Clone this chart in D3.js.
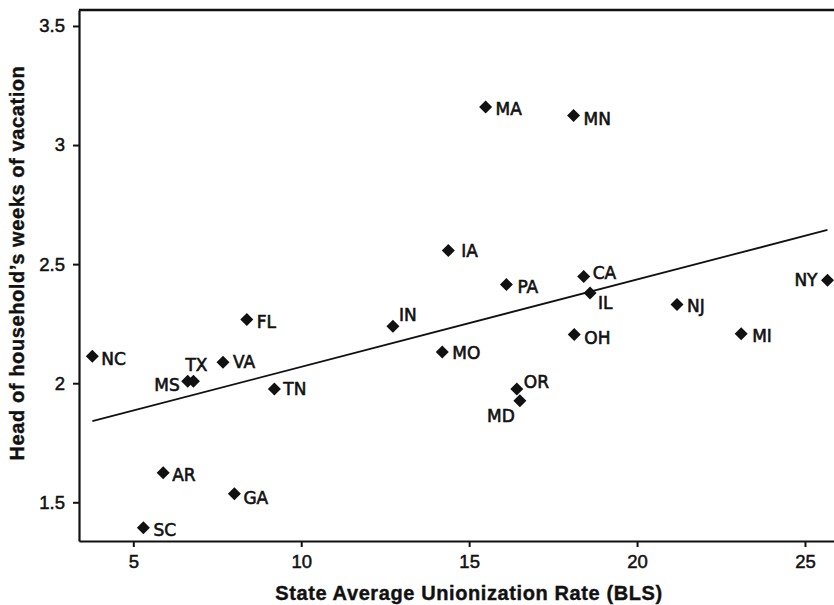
<!DOCTYPE html>
<html>
<head>
<meta charset="utf-8">
<script src="https://cdn.jsdelivr.net/npm/d3@7"></script>
<style>
  html, body { margin: 0; padding: 0; background: #fff; }
  svg { display: block; }
</style>
</head>
<body>
<svg id="chart" width="834" height="605"></svg>
<script>
// ---- Data ----
const states = ["MA","MN","IA","PA","CA","IL","NY","OH","OR","MD","MO","NJ","MI","IN","FL","NC","VA","MS","TX","TN","AR","GA","SC"];
const unionRate = [15.49,18.11,14.38,16.11,18.41,18.60,25.67,18.13,16.42,16.51,14.20,21.19,23.10,12.73,8.38,3.78,7.67,6.62,6.79,9.20,5.89,8.01,5.30];
const vacationWeeks = [3.160,3.124,2.557,2.414,2.448,2.379,2.432,2.205,1.976,1.926,2.131,2.331,2.208,2.239,2.267,2.113,2.088,2.008,2.008,1.976,1.624,1.536,1.393];
const xTicks = [5, 10, 15, 20, 25];
const yTicks = [1.5, 2, 2.5, 3, 3.5];
const xTitle = "State Average Unionization Rate (BLS)";
const yTitle = "Head of household\u2019s weeks of vacation";

// ---- Drawing ----
(function () {
const svg = d3.select("#chart");
const mLeft = 79, mTop = 10, mRight = 834, mBottom = 541;

const x = d3.scaleLinear().domain([3.383, 25.864]).range([mLeft, mRight]);
const y = d3.scaleLinear().domain([1.3375, 3.567]).range([mBottom, mTop]);

const data = states.map((s, i) => ({ s, x: unionRate[i], y: vacationWeeks[i] }));

// label placement: [dx, dy (centre offset), anchor]
const place = {
  MA:[10,2,"start"], MN:[10,3,"start"], IA:[13,0,"start"], PA:[11,2,"start"],
  CA:[9,-4,"start"], IL:[8,10,"start"], NY:[-10,0,"end"], OH:[10,3,"start"],
  OR:[7,-7,"start"], MD:[-5,15,"end"], MO:[10,1,"start"], NJ:[10,2,"start"],
  MI:[11,2,"start"], IN:[6,-11,"start"], FL:[10,2,"start"], NC:[9,3,"start"],
  VA:[10,0,"start"], MS:[-8,4,"end"], TX:[-8,-16,"start"], TN:[9,0,"start"],
  AR:[9,2,"start"], GA:[9,4,"start"], SC:[10,2,"start"]
};

// top frame line
svg.append("line")
  .attr("x1", mLeft).attr("x2", mRight).attr("y1", mTop).attr("y2", mTop)
  .attr("stroke", "#111").attr("stroke-width", 2.5);

// axes
const fmt = d => String(d);
const xAxis = svg.append("g")
  .attr("transform", `translate(0,${mBottom})`)
  .call(d3.axisBottom(x).tickValues(xTicks).tickFormat(fmt).tickSize(6).tickSizeOuter(0).tickPadding(8));
const yAxis = svg.append("g")
  .attr("transform", `translate(${mLeft},0)`)
  .call(d3.axisLeft(y).tickValues(yTicks).tickFormat(fmt).tickSize(6).tickSizeOuter(0).tickPadding(8));

[xAxis, yAxis].forEach(g => {
  g.select(".domain").attr("stroke", "#111").attr("stroke-width", 2.2);
  g.selectAll(".tick line").attr("stroke", "#111").attr("stroke-width", 2);
  g.selectAll(".tick text")
    .attr("fill", "#111")
    .attr("stroke", "#111").attr("stroke-width", 0.5)
    .style("font-family", "'Liberation Sans', Arial, sans-serif")
    .style("font-size", "18.5px");
});

// regression line (OLS fit of the plotted points)
const mx = d3.mean(data, d => d.x), my = d3.mean(data, d => d.y);
const slope = d3.sum(data, d => (d.x - mx) * (d.y - my)) / d3.sum(data, d => (d.x - mx) ** 2);
const icpt = my - slope * mx;
const [xmin, xmax] = d3.extent(data, d => d.x);
svg.append("line")
  .attr("x1", x(xmin)).attr("y1", y(icpt + slope * xmin))
  .attr("x2", x(xmax)).attr("y2", y(icpt + slope * xmax))
  .attr("stroke", "#111").attr("stroke-width", 1.8);

// markers
const r = 6.5;
svg.append("g").selectAll("path").data(data).join("path")
  .attr("d", d => {
    const cx = x(d.x), cy = y(d.y);
    return `M${cx},${cy - r}L${cx + r},${cy}L${cx},${cy + r}L${cx - r},${cy}Z`;
  })
  .attr("fill", "#111");

// labels
svg.append("g").selectAll("text").data(data).join("text")
  .attr("x", d => x(d.x) + place[d.s][0])
  .attr("y", d => y(d.y) + place[d.s][1])
  .attr("dy", "0.36em")
  .attr("text-anchor", d => place[d.s][2])
  .attr("fill", "#111")
  .attr("stroke", "#111").attr("stroke-width", 0.6)
  .style("font-family", "'DejaVu Sans', sans-serif")
  .style("font-size", "17px")
  .text(d => d.s);

// axis titles
svg.append("text")
  .attr("x", 469).attr("y", 600)
  .attr("text-anchor", "middle")
  .attr("fill", "#111")
  .attr("stroke", "#111").attr("stroke-width", 0.4)
  .style("font-family", "'Liberation Sans', Arial, sans-serif")
  .style("font-weight", "bold")
  .style("font-size", "20px")
  .style("letter-spacing", "0.6px")
  .text(xTitle);

svg.append("text")
  .attr("transform", `translate(24,263) rotate(-90)`)
  .attr("text-anchor", "middle")
  .attr("fill", "#111")
  .attr("stroke", "#111").attr("stroke-width", 0.4)
  .style("font-family", "'Liberation Sans', Arial, sans-serif")
  .style("font-weight", "bold")
  .style("font-size", "20px")
  .style("letter-spacing", "0.6px")
  .text(yTitle);
})();
</script>
</body>
</html>
